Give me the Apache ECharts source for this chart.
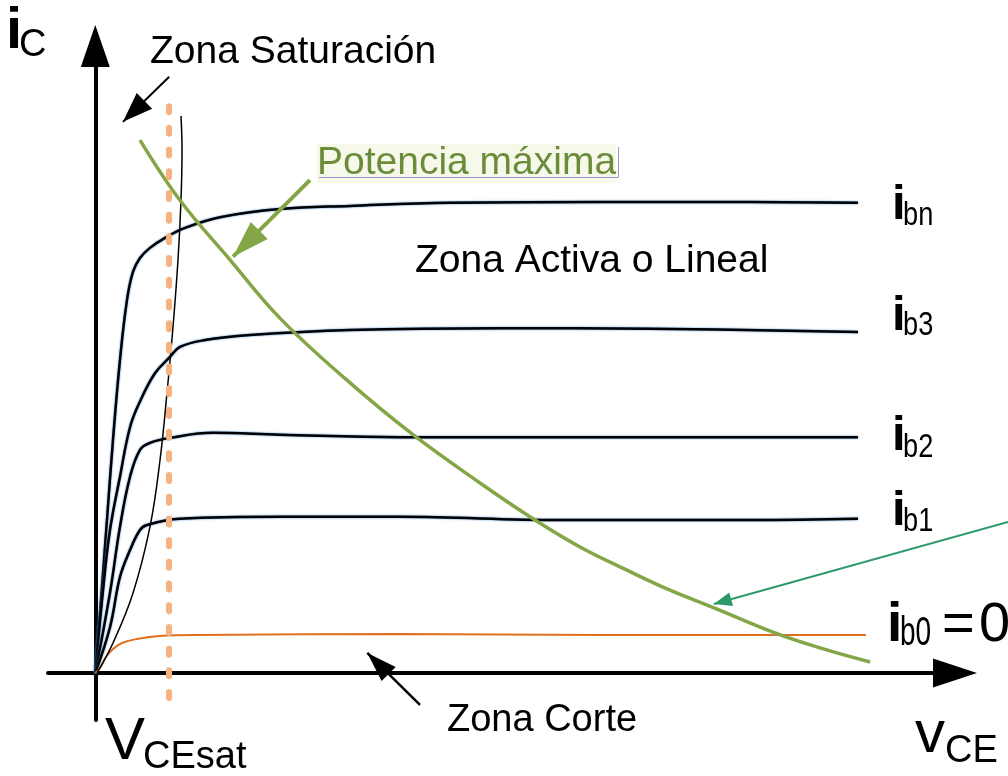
<!DOCTYPE html>
<html>
<head>
<meta charset="utf-8">
<script src="https://cdn.jsdelivr.net/npm/echarts@6/dist/echarts.min.js"></script>
<style>
html, body { margin: 0; padding: 0; background: #fff; }
#main { width: 1008px; height: 776px; }
</style>
</head>
<body>
<div id="main"></div>
<script>
// curvas de salida del transistor: [vCE, iC]
var ibn = [[0,0],[0.066,1.16],[0.136,2.44],[0.206,3.72],[0.287,4.99],[0.369,5.95],[0.439,6.40],[0.52,6.62],[0.636,6.78],[0.811,6.94],[1.044,7.10],[1.451,7.27],[2.148,7.40],[2.962,7.45],[4.126,7.50],[5.87,7.51],[7.615,7.51],[8.872,7.50]];
var ib3 = [[0,0],[0.09,1.32],[0.171,2.28],[0.287,3.13],[0.404,3.92],[0.52,4.33],[0.694,4.78],[0.869,5.04],[0.985,5.20],[1.276,5.31],[1.8,5.39],[2.962,5.47],[4.707,5.50],[6.452,5.49],[8.872,5.44]];
var ib2 = [[0,0],[0.171,1.28],[0.287,2.33],[0.404,3.13],[0.52,3.56],[0.636,3.67],[0.869,3.75],[1.369,3.83],[2.148,3.80],[3.544,3.76],[5.87,3.76],[8.872,3.76]];
var ib1 = [[0,0],[0.171,0.73],[0.287,1.53],[0.404,1.96],[0.52,2.28],[0.601,2.36],[0.985,2.46],[2.148,2.49],[3.544,2.49],[5.405,2.44],[7.615,2.44],[8.872,2.46]];
var ib0 = [[0,0],[0.055,0.08],[0.124,0.255],[0.206,0.383],[0.311,0.478],[0.485,0.542],[0.753,0.59],[1.218,0.606],[3.544,0.622],[5.87,0.606],[8.965,0.606]];
var saturacion = [[0.02,0],[0.206,0.478],[0.439,1.276],[0.636,2.329],[0.753,3.397],[0.834,4.466],[0.904,5.518],[0.962,6.587],[0.997,7.544],[1.009,8.341],[0.997,8.884]];
var potencia = [[0.52,8.50],[0.985,7.54],[1.567,6.59],[2.148,5.66],[2.927,4.67],[3.696,3.80],[4.475,3.03],[5.092,2.46],[5.638,2.01],[6.185,1.64],[6.685,1.32],[7.197,1.04],[7.906,0.64],[8.43,0.40],[9.012,0.175]];
var vceSat = 0.86;

// flechas de anotacion: [desde, punta]
var flechaSat = [[0.86, 9.51], [0.322, 8.79]];
var flechaPot = [[2.497, 7.86], [1.602, 6.64]];
var flechaHip = [[10.62, 2.41], [7.197, 1.10]];
var flechaCorte = [[3.777, -0.51], [3.164, 0.32]];

var FONT = '"Liberation Sans", Arial, sans-serif';

var dom = document.getElementById('main');
var myChart = echarts.init(dom);

function curve(name, data, color, width, halo) {
    return {
        name: name,
        type: 'line',
        data: data,
        smooth: 0.4,
        showSymbol: false,
        symbol: 'none',
        silent: true,
        lineStyle: {
            color: color,
            width: width,
            shadowColor: halo ? '#3f7fc8' : 'transparent',
            shadowBlur: halo ? 2 : 0
        },
        z: 2
    };
}

function arrow(pts, color, width, head) {
    return [
        { coord: pts[0], symbol: 'none', lineStyle: { color: color, width: width, type: 'solid' } },
        { coord: pts[1], symbol: 'triangle', symbolSize: head, symbolOffset: [0, '50%'], itemStyle: { color: color } }
    ];
}

function txt(s, left, base, size, opts) {
    opts = opts || {};
    return {
        type: 'text',
        x: left,
        y: base - 0.3465 * size,
        scaleX: opts.sx || 1,
        silent: true,
        z: 100,
        style: {
            text: s,
            fontSize: size,
            fontFamily: FONT,
            fontWeight: opts.bold ? 'bold' : 'normal',
            fill: opts.color || '#000',
            align: 'left',
            verticalAlign: 'middle',
            backgroundColor: opts.bg
        }
    };
}

var potSeries = curve('Potencia máxima', potencia, '#84a646', 3.5, false);
potSeries.z = 4;
potSeries.markLine = {
    silent: true,
    animation: false,
    label: { show: false },
    emphasis: { disabled: true },
    data: [
        [
            { coord: [vceSat, -0.4], symbol: 'none', lineStyle: { color: '#f5b27f', width: 6, type: [6, 15.7], cap: 'round' } },
            { coord: [vceSat, 9.27], symbol: 'none' }
        ],
        arrow(flechaSat, '#000', 2, [22, 30]),
        arrow(flechaPot, '#84a646', 4, [24, 37]),
        arrow(flechaCorte, '#000', 2.5, [20, 30])
    ]
};

// la flecha verde azulada llega al borde derecho: va en una rejilla oculta, misma escala, hasta el borde
var hipSeries = {
    name: 'flecha',
    type: 'line',
    xAxisIndex: 1,
    yAxisIndex: 1,
    data: [],
    symbol: 'none',
    silent: true,
    z: 5,
    markLine: {
        silent: true,
        animation: false,
        label: { show: false },
        emphasis: { disabled: true },
        data: [arrow(flechaHip, '#2e9a6a', 2, [14, 18])]
    }
};

var hiddenAxis = {
    type: 'value',
    show: false,
    axisLine: { show: false },
    splitLine: { show: false }
};

option = {
    animation: false,
    backgroundColor: '#fff',
    grid: [
        { left: 48, right: 53, top: 46, bottom: 56 },
        { left: 48, right: 0, top: 46, bottom: 56 }
    ],
    xAxis: [{
        type: 'value',
        min: -0.55,
        max: 10,
        axisLine: {
            show: true,
            onZero: true,
            symbol: ['none', 'triangle'],
            symbolSize: [29, 44],
            lineStyle: { color: '#000', width: 4 }
        },
        axisTick: { show: false },
        axisLabel: { show: false },
        splitLine: { show: false }
    }, Object.assign({ gridIndex: 1, min: -0.55, max: 10.62 }, hiddenAxis)],
    yAxis: [{
        type: 'value',
        min: -0.75,
        max: 10,
        axisLine: {
            show: true,
            onZero: true,
            symbol: ['none', 'triangle'],
            symbolSize: [29, 42],
            lineStyle: { color: '#000', width: 4 }
        },
        axisTick: { show: false },
        axisLabel: { show: false },
        splitLine: { show: false }
    }, Object.assign({ gridIndex: 1, min: -0.75, max: 10 }, hiddenAxis)],
    series: [
        curve('ibn', ibn, '#000', 2.5, true),
        curve('ib3', ib3, '#000', 2.5, true),
        curve('ib2', ib2, '#000', 2.5, true),
        curve('ib1', ib1, '#000', 2.5, true),
        curve('ib0', ib0, '#e0701e', 2, false),
        curve('saturacion', saturacion, '#000', 1.5, false),
        potSeries,
        hipSeries
    ],
    graphic: [
        txt('i', 6, 52, 58, { bold: true }),
        txt('C', 19, 59, 38),
        txt('Zona Saturación', 150, 66, 39),
        txt('Potencia máxima', 317, 177, 39, { color: '#6b8c3b', bg: '#f6f9ea' }),
        {
            type: 'polyline', silent: true, z: 101,
            shape: { points: [[319, 177.5], [618.5, 177.5], [618.5, 147]] },
            style: { stroke: '#9b8fd6', lineWidth: 1, fill: null }
        },
        txt('Zona Activa o Lineal', 415, 275, 39),
        txt('Zona Corte', 447, 734, 38),
        txt('V', 105, 763, 60),
        txt('CEsat', 143, 771, 38),
        txt('v', 915, 756, 60),
        txt('CE', 945, 765, 38),
        txt('i', 892, 222, 49, { bold: true }),
        txt('bn', 903, 227, 34, { sx: 0.8 }),
        txt('i', 892, 333, 49, { bold: true }),
        txt('b3', 903, 337, 34, { sx: 0.8 }),
        txt('i', 892, 453, 49, { bold: true }),
        txt('b2', 903, 459, 34, { sx: 0.8 }),
        txt('i', 892, 528, 49, { bold: true }),
        txt('b1', 903, 533, 34, { sx: 0.8 }),
        txt('i', 887, 645, 55, { bold: true }),
        txt('b0', 900, 648, 40, { sx: 0.7 }),
        txt('=', 942, 645, 56),
        txt('0', 979, 645, 56)
    ]
};

if (option && typeof option === "object") {
    myChart.setOption(option, true);
}
</script>
</body>
</html>
